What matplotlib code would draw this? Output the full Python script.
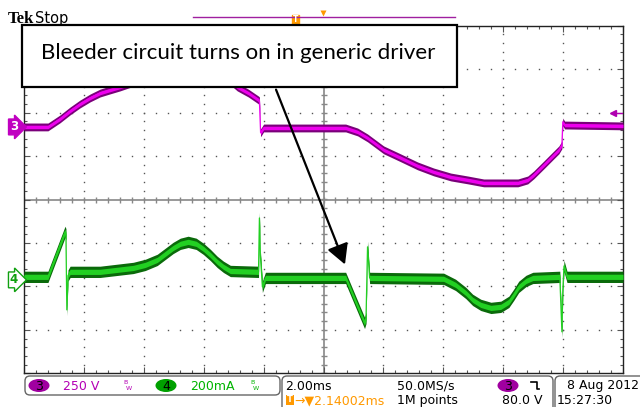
import matplotlib
matplotlib.use("Agg")
import matplotlib.pyplot as plt
import numpy as np
from matplotlib.patches import Rectangle, FancyBboxPatch, Ellipse, FancyArrowPatch
from matplotlib.ticker import MultipleLocator
from matplotlib.transforms import blended_transform_factory

# Channel 3: line voltage (V), time in ms from the left edge of the screen
ch3_t = [0.00, 0.80, 1.20, 1.54, 1.87, 2.21, 2.54, 2.88, 3.21, 3.88, 4.55, 5.22,
         5.89, 6.39, 6.82, 7.12, 7.49, 7.83, 7.86, 7.90, 8.00, 10.74, 11.14, 11.47,
         12.01, 12.58, 13.14, 13.68, 14.25, 14.82, 15.35, 15.92, 16.49, 16.82, 17.02,
         17.36, 17.69, 17.86, 17.96, 17.99, 18.05, 20.00]
ch3_v = [0, 0, 46, 92, 132, 167, 195, 213, 230, 270, 305, 322,
         328, 310, 275, 230, 195, 155, 150, -34, -6, -6, -29, -63,
         -132, -178, -224, -259, -288, -305, -322, -322, -322, -305, -276,
         -218, -161, -132, -103, 29, 11, 6]

# Channel 4: driver input current (mA)
ch4_t = [0.00, 0.80, 1.37, 1.40, 1.43, 1.47, 1.54, 2.54, 3.65, 4.05, 4.45, 4.72,
         4.98, 5.22, 5.48, 5.75, 5.99, 6.22, 6.45, 6.66, 6.89, 7.83, 7.86, 7.89,
         7.96, 8.06, 10.74, 11.37, 11.42, 11.47, 11.54, 14.01, 14.41, 14.75, 14.98,
         15.25, 15.59, 15.92, 16.19, 16.35, 16.52, 16.76, 16.99, 17.89, 17.96, 17.99,
         18.03, 18.13, 20.00]
ch4_ma = [14, 14, 221, 210, -138, 20, 37, 37, 55, 69, 92, 120,
          147, 166, 175, 166, 143, 115, 83, 60, 41, 37, 285, 115,
          -32, 9, 9, -198, -175, 152, 9, 5, -23, -60, -92,
          -115, -129, -124, -101, -69, -32, -5, 9, 14, -239, -46,
          64, 14, 14]

CH3_VDIV = 250.0      # V/div
CH4_MADIV = 200.0     # mA/div
CH3_OFFSET = 1.67     # divisions above centre
CH4_OFFSET = -1.85
TRIG_LEVEL = 80.0     # V on channel 3

MAGENTA_DARK = "#7a007a"
MAGENTA = "#ee00ee"
GREEN_DARK = "#0a6a0a"
GREEN = "#22d022"
GRID = "#555555"

fig = plt.figure(figsize=(6.4, 4.07), dpi=100)
fig.patch.set_facecolor("white")

# graticule: 10 x 8 divisions
ax = fig.add_axes([24 / 640, 1 - 373.3 / 407, 599 / 640, 347.6 / 407])
ax.set_xlim(0, 20)
ax.set_ylim(-4, 4)
ax.xaxis.set_major_locator(MultipleLocator(2))
ax.xaxis.set_minor_locator(MultipleLocator(0.4))
ax.yaxis.set_major_locator(MultipleLocator(1))
ax.yaxis.set_minor_locator(MultipleLocator(0.2))
ax.tick_params(which="both", direction="in", top=True, right=True,
               labelbottom=False, labelleft=False, color=GRID, width=0.8)
ax.tick_params(which="major", length=4)
ax.tick_params(which="minor", length=2.5)
for sp in ax.spines.values():
    sp.set_color("#222222")
    sp.set_linewidth(1.0)

for gx in range(2, 20, 2):
    if gx == 10:
        continue
    gy = np.arange(-4, 4.01, 0.2)
    ax.plot(np.full_like(gy, gx), gy, ls="none", marker="s", ms=1.0, color=GRID,
            mec="none", zorder=1)
for gy in range(-3, 4):
    if gy == 0:
        continue
    gxs = np.arange(0, 20.01, 0.4)
    ax.plot(gxs, np.full_like(gxs, gy), ls="none", marker="s", ms=1.0, color=GRID,
            mec="none", zorder=1)
ax.axhline(0, color="#888888", lw=1.2, zorder=1)
ax.axvline(10, color="#888888", lw=1.2, zorder=1)
cx = np.arange(0, 20.01, 0.4)
ax.plot(cx, np.zeros_like(cx), ls="none", marker="|", ms=5, color="#888888", zorder=1)
cy = np.arange(-4, 4.01, 0.2)
ax.plot(np.full_like(cy, 10), cy, ls="none", marker="_", ms=5, color="#888888", zorder=1)

# traces
y3 = np.array(ch3_v) / CH3_VDIV + CH3_OFFSET
ax.fill_between(ch3_t, y3 - 0.09, y3 + 0.09, color=MAGENTA_DARK, lw=0, zorder=3)
ax.fill_between(ch3_t, y3 - 0.04, y3 + 0.04, color=MAGENTA, lw=0, zorder=4)
ax.plot(ch3_t, y3, color=MAGENTA, lw=0.9, zorder=4)

y4 = np.array(ch4_ma) / CH4_MADIV + CH4_OFFSET
ax.fill_between(ch4_t, y4 - 0.13, y4 + 0.13, color=GREEN_DARK, lw=0, zorder=3)
ax.fill_between(ch4_t, y4 - 0.06, y4 + 0.06, color=GREEN, lw=0, zorder=4)
ax.plot(ch4_t, y4, color=GREEN, lw=0.9, zorder=4)

# trigger level marker on right edge
trig_y = TRIG_LEVEL / CH3_VDIV + CH3_OFFSET
ax.plot([19.65, 19.95], [trig_y, trig_y], color="#b000b0", lw=1, zorder=5)
ax.plot([19.65], [trig_y], marker="<", ms=4, color="#b000b0", zorder=5)

# overlay in pixel coordinates for the scope decorations
ov = fig.add_axes([0, 0, 1, 1])
ov.set_xlim(0, 640)
ov.set_ylim(407, 0)
ov.axis("off")
ov.patch.set_visible(False)
ax.set_zorder(1)
ov.set_zorder(2)

mix = blended_transform_factory(ov.transData, ax.transData)
ov.text(14, CH3_OFFSET, "3", transform=mix, color="white", fontsize=8.5,
        fontweight="bold", ha="center", va="center",
        bbox=dict(boxstyle="rarrow,pad=0.12", fc="#c000c0", ec="#c000c0"))
ov.text(14, CH4_OFFSET, "4", transform=mix, color="#10a010", fontsize=8.5,
        fontweight="bold", ha="center", va="center",
        bbox=dict(boxstyle="rarrow,pad=0.12", fc="white", ec="#10a010", lw=1))

# header
ov.text(8, 23, "Tek", family="Liberation Serif", fontweight="bold", fontsize=12,
        ha="left", va="baseline", color="black")
ov.text(35, 23, "Stop", family="DejaVu Sans", fontsize=10.5, ha="left",
        va="baseline", color="black")
ov.plot([193, 455], [17, 17], color="#a020a0", lw=1)
ov.add_patch(Rectangle((292, 15), 7, 9, fc="#ff9900", ec="#ff9900"))
ov.text(295.5, 19.5, "T", color="white", fontsize=5.5, ha="center", va="center",
        fontweight="bold")
ov.plot([323], [13], marker="v", ms=4.5, color="#ff9900", mec="none")

# annotation box and arrow
ov.add_patch(Rectangle((22, 25), 435, 62, fc="white", ec="black", lw=1.6, zorder=10))
ov.text(238, 53, "Bleeder circuit turns on in generic driver", family="Lato",
        fontsize=16, ha="center", va="center", color="black", zorder=11)
ov.add_patch(FancyArrowPatch((275, 87), (346, 267),
                             arrowstyle="-|>,head_length=0.55,head_width=0.3",
                             mutation_scale=22, lw=1.6, color="black", zorder=12))

# status bar
fs = 9
ov.add_patch(FancyBboxPatch((25, 376), 255, 19, boxstyle="round,pad=0,rounding_size=5",
                            fc="white", ec="#666666", lw=1))
ov.add_patch(FancyBboxPatch((282, 376), 271, 45, boxstyle="round,pad=0,rounding_size=5",
                            fc="white", ec="#666666", lw=1))
ov.add_patch(FancyBboxPatch((555, 376), 95, 45, boxstyle="round,pad=0,rounding_size=5",
                            fc="white", ec="#666666", lw=1))

ov.add_patch(Ellipse((39, 385.5), 21, 13, fc="#a000a0", ec="none"))
ov.text(39, 386, "3", fontsize=fs, ha="center", va="center", color="black")
ov.text(63, 386, "250 V", fontsize=fs, ha="left", va="center", color="#b400b4")
ov.text(123, 382, "B", fontsize=4.5, ha="left", va="center", color="#b400b4")
ov.text(126, 388, "W", fontsize=4.5, ha="left", va="center", color="#b400b4")

ov.add_patch(Ellipse((166, 385.5), 21, 13, fc="#00a000", ec="none"))
ov.text(166, 386, "4", fontsize=fs, ha="center", va="center", color="black")
ov.text(190, 386, "200mA", fontsize=fs, ha="left", va="center", color="#00b400")
ov.text(250, 382, "B", fontsize=4.5, ha="left", va="center", color="#00b400")
ov.text(253, 388, "W", fontsize=4.5, ha="left", va="center", color="#00b400")

ov.text(285, 386, "2.00ms", fontsize=fs, ha="left", va="center", color="black")
ov.add_patch(Rectangle((285.5, 395), 8, 9.5, fc="#ff9900", ec="none"))
ov.text(289.5, 400, "T", fontsize=6, ha="center", va="center", color="white",
        fontweight="bold")
ov.text(294, 400.5, "\u2192\u25bc2.14002ms", fontsize=fs, ha="left", va="center",
        color="#ff9900")
ov.text(397, 386, "50.0MS/s", fontsize=fs, ha="left", va="center", color="black")
ov.text(397, 400.5, "1M points", fontsize=fs, ha="left", va="center", color="black")
ov.add_patch(Ellipse((508, 385.5), 21, 13, fc="#a000a0", ec="none"))
ov.text(508, 386, "3", fontsize=fs, ha="center", va="center", color="black")
ov.plot([531, 536.5, 536.5, 539], [381.5, 381.5, 389, 389], color="black", lw=1.2)
ov.text(543, 400.5, "80.0 V", fontsize=fs, ha="right", va="center", color="black")
ov.text(567, 386, "8 Aug 2012", fontsize=fs, ha="left", va="center", color="black")
ov.text(557, 400.5, "15:27:30", fontsize=fs, ha="left", va="center", color="black")

fig.savefig("out.png", dpi=100)
plt.close(fig)
